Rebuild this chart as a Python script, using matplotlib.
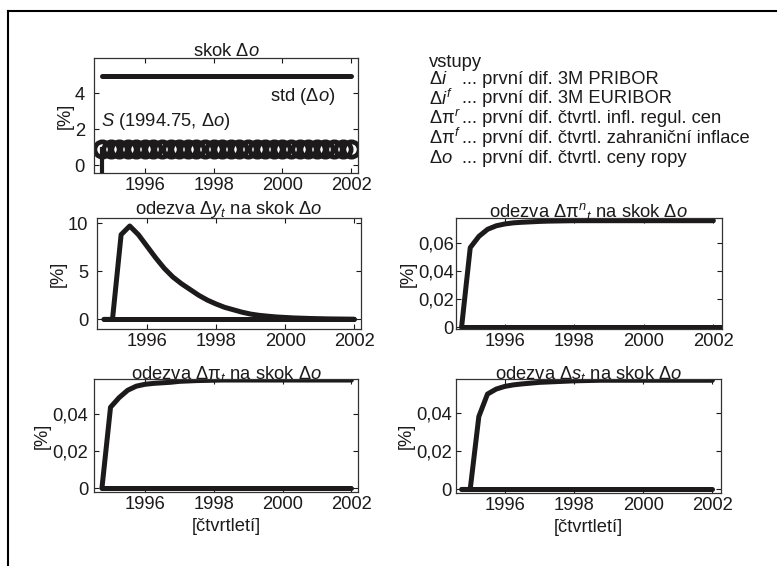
import matplotlib
matplotlib.use("Agg")
import matplotlib.pyplot as plt
from matplotlib.lines import Line2D

plt.rcParams['font.family'] = ['Liberation Sans', 'DejaVu Sans']
plt.rcParams['mathtext.fontset'] = 'custom'
plt.rcParams['mathtext.rm'] = 'Liberation Sans'
plt.rcParams['mathtext.it'] = 'Liberation Sans:italic'
plt.rcParams['mathtext.bf'] = 'Liberation Sans:bold'

# ---------------- data ----------------
quarters = [1994.75, 1995.0, 1995.25, 1995.5, 1995.75, 1996.0, 1996.25, 1996.5,
            1996.75, 1997.0, 1997.25, 1997.5, 1997.75, 1998.0, 1998.25, 1998.5,
            1998.75, 1999.0, 1999.25, 1999.5, 1999.75, 2000.0, 2000.25, 2000.5,
            2000.75, 2001.0, 2001.25, 2001.5, 2001.75, 2002.0]

std_o = [4.95] * 30
shock_S = [0.9] * 30
shock_date = 1994.75
zero_line = [0.0] * 30

resp_y = [0.0, 0.0, 8.8, 9.7, 8.8, 7.6, 6.4, 5.3, 4.4, 3.7, 3.1, 2.5, 2.0, 1.6,
          1.25, 1.0, 0.75, 0.55, 0.42, 0.33, 0.25, 0.2, 0.15, 0.12, 0.09, 0.07,
          0.05, 0.04, 0.03, 0.02]

resp_pin = [0.0, 0.0565, 0.0645, 0.0695, 0.072, 0.0733, 0.0741, 0.0745, 0.0748,
            0.0751, 0.0753, 0.0754, 0.0755, 0.0756, 0.0756, 0.0756, 0.0756,
            0.0756, 0.0756, 0.0756, 0.0756, 0.0756, 0.0756, 0.0756, 0.0756,
            0.0756, 0.0756, 0.0756, 0.0756, 0.0756]

resp_pi = [0.0, 0.0438, 0.049, 0.053, 0.0552, 0.0562, 0.0567, 0.057, 0.0573,
           0.0578, 0.058, 0.0582, 0.0583, 0.0584, 0.0585, 0.0585, 0.0585, 0.0585,
           0.0585, 0.0585, 0.0585, 0.0585, 0.0585, 0.0585, 0.0585, 0.0585,
           0.0585, 0.0585, 0.0585, 0.0585]

resp_s = [0.0, 0.0, 0.038, 0.0497, 0.0523, 0.0537, 0.0545, 0.055, 0.0554, 0.0558,
          0.056, 0.0562, 0.0564, 0.0566, 0.0567, 0.0568, 0.0569, 0.0569, 0.0569,
          0.0569, 0.0569, 0.0569, 0.0569, 0.0569, 0.0569, 0.0569, 0.0569,
          0.0569, 0.0569, 0.0569]

xticks = [1996, 1998, 2000, 2002]
xticklabels = ['1996', '1998', '2000', '2002']
yticks_top = [0, 2, 4]
yticklabels_top = ['0', '2', '4']
yticks_y = [0, 5, 10]
yticklabels_y = ['0', '5', '10']
yticks_pin = [0, 0.02, 0.04, 0.06]
yticklabels_pin = ['0', '0,02', '0,04', '0,06']
yticks_small = [0, 0.02, 0.04]
yticklabels_small = ['0', '0,02', '0,04']

legend_symbols = [r'$\Delta i$', r'$\Delta i^f$', r'$\Delta\mathrm{\pi}^r$',
                  r'$\Delta\mathrm{\pi}^f$', r'$\Delta o$']
legend_texts = ['... první dif. 3M PRIBOR',
                '... první dif. 3M EURIBOR',
                '... první dif. čtvrtl. infl. regul. cen',
                '... první dif. čtvrtl. zahraniční inflace',
                '... první dif. čtvrtl. ceny ropy']

# ---------------- figure ----------------
W, H = 783, 566
fig = plt.figure(figsize=(W / 100, H / 100), dpi=100)
INK = '#1c1a1a'
FS = 13.2


def px_axes(x0, y0, x1, y1):
    return fig.add_axes([x0 / W, 1 - y1 / H, (x1 - x0) / W, (y1 - y0) / H])


def style(ax, xlim, ylim, yt, ytl, title, tpad, ypad):
    ax.set_xlim(*xlim)
    ax.set_ylim(*ylim)
    ax.set_xticks(xticks)
    ax.set_xticklabels(xticklabels)
    ax.set_yticks(yt)
    ax.set_yticklabels(ytl)
    ax.tick_params(direction='in', top=True, right=True, length=3.5, width=0.8,
                   labelsize=FS, pad=3, colors=INK)
    ax.tick_params(axis='y', pad=ypad)
    for sp in ax.spines.values():
        sp.set_linewidth(0.9)
        sp.set_color('#333333')
    ax.set_ylabel('[%]', fontsize=FS, labelpad=1, color=INK)
    ax.set_title(title, fontsize=FS, pad=tpad, color=INK)


LW = 3.6
xl = (1994.56, 2002.2)

# top-left: shock
ax0 = px_axes(94, 58.3, 358, 172.7)
ax0.plot(quarters, std_o, color=INK, lw=LW, solid_capstyle='round')
ax0.plot(quarters, shock_S, 'o', ms=11, mfc='none', mec=INK, mew=3.4)
ax0.plot([shock_date, shock_date], [shock_S[0], -1.0], color=INK, lw=3)
style(ax0, (1994.52, 2002.2), (-0.4, 5.92), yticks_top, yticklabels_top,
      r'skok $\Delta o$', 2, 6.5)
ax0.text(0.665, 0.67, r'std ($\Delta o$)', transform=ax0.transAxes,
         fontsize=FS, va='center', ha='left', color=INK)
ax0.text(0.028, 0.445, r'$S$ (1994.75, $\Delta o$)', transform=ax0.transAxes,
         fontsize=FS, va='center', ha='left', color=INK)

# middle-left: output
ax1 = px_axes(97.3, 218.3, 361, 329)
ax1.plot(quarters, zero_line, color=INK, lw=LW, solid_capstyle='round')
ax1.plot(quarters, resp_y, color=INK, lw=LW, solid_capstyle='round')
style(ax1, xl, (-1.0, 10.5), yticks_y, yticklabels_y,
      r'odezva $\Delta y_t$ na skok $\Delta o$', 3, 6.5)

# middle-right: net inflation
ax2 = px_axes(456, 218.3, 721.7, 329.3)
ax2.plot(quarters + [2002.3], zero_line + [0.0], color=INK, lw=LW, solid_capstyle='round')
ax2.plot(quarters, resp_pin, color=INK, lw=LW, solid_capstyle='round')
style(ax2, (1994.59, 2002.24), (-0.0014, 0.0773), yticks_pin, yticklabels_pin,
      r'odezva $\Delta\mathrm{\pi}^n{}_t$ na skok $\Delta o$', 1, 1.5)

# bottom-left: inflation
ax3 = px_axes(94, 379.3, 358.3, 491.7)
ax3.plot(quarters, zero_line, color=INK, lw=LW, solid_capstyle='round')
ax3.plot(quarters, resp_pi, color=INK, lw=LW, solid_capstyle='round')
style(ax3, (1994.52, 2002.2), (-0.0018, 0.0589), yticks_small, yticklabels_small,
      r'odezva $\Delta\mathrm{\pi}_t$ na skok $\Delta o$', 0, 4.3)
ax3.set_xlabel('[čtvrtletí]', fontsize=FS, labelpad=4, color=INK)

# bottom-right: exchange rate
ax4 = px_axes(456, 379.3, 720.7, 492.7)
ax4.plot(quarters, zero_line, color=INK, lw=LW, solid_capstyle='round')
ax4.plot(quarters, resp_s, color=INK, lw=LW, solid_capstyle='round')
style(ax4, (1994.59, 2002.24), (-0.0017, 0.0574), yticks_small, yticklabels_small,
      r'odezva $\Delta s_t$ na skok $\Delta o$', 0, 3)
ax4.set_xlabel('[čtvrtletí]', fontsize=FS, labelpad=4, color=INK)

# legend text block
fig.text(429 / W, 1 - 62.7 / H, 'vstupy', fontsize=FS, va='center', ha='left', color=INK)
row_y = [79.3, 98.7, 118.3, 138.3, 158.3]
for yy, sym, txt in zip(row_y, legend_symbols, legend_texts):
    fig.text(429 / W, 1 - yy / H, sym, fontsize=FS, va='center', ha='left', color=INK)
    fig.text(462 / W, 1 - yy / H, txt, fontsize=FS, va='center', ha='left', color=INK)

# outer frame (left and top)
fig.add_artist(Line2D([8 / W, 8 / W], [0, 1 - 10.5 / H], transform=fig.transFigure,
                      color='black', lw=1.5))
fig.add_artist(Line2D([8 / W, 776 / W], [1 - 10.5 / H, 1 - 10.5 / H],
                      transform=fig.transFigure, color='black', lw=1.5))

fig.savefig('out.png', dpi=100)
